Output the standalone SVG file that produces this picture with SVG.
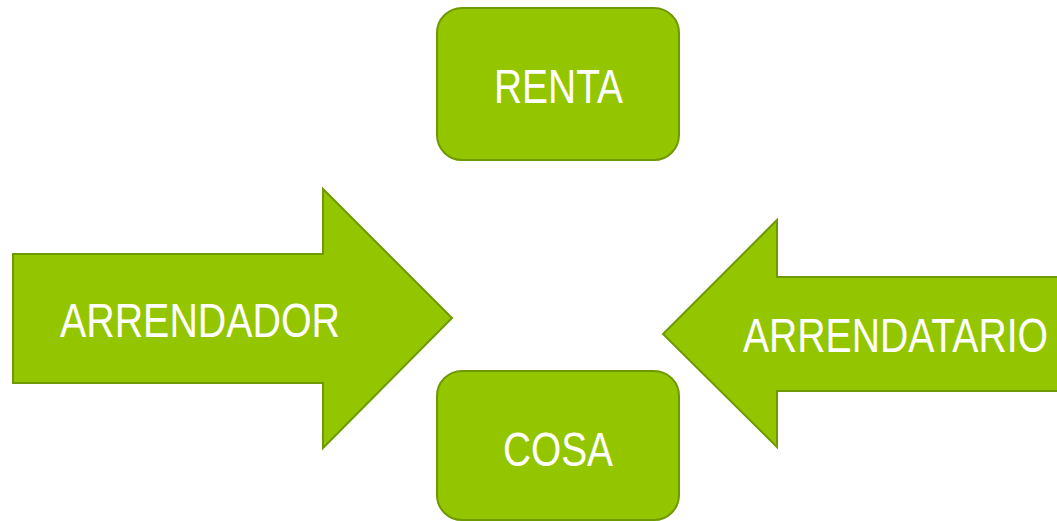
<svg xmlns="http://www.w3.org/2000/svg" width="1057" height="521" viewBox="0 0 1057 521">
<style>
.shape{fill:#94C600;stroke:#6E9A00;stroke-width:2}
.lbl{font-family:"Liberation Sans",Arial,sans-serif;font-size:48px;fill:#FFFFFF}
</style>
<rect width="1057" height="521" fill="#FFFFFF"/>
<g id="arrendador">
<polygon class="shape" points="13,254 323,254 323,189 452,318 323,448 323,383 13,383"/>
<text class="lbl" x="60" y="337" textLength="280" lengthAdjust="spacingAndGlyphs">ARRENDADOR</text>
</g>
<g id="arrendatario">
<polygon class="shape" points="1058,277 777,277 777,220 663,334 777,447 777,391 1058,391"/>
<text class="lbl" x="743" y="352" textLength="305" lengthAdjust="spacingAndGlyphs">ARRENDATARIO</text>
</g>
<g id="renta">
<rect class="shape" x="437" y="8" width="242" height="152" rx="25" ry="25"/>
<text class="lbl" x="494" y="103" textLength="129" lengthAdjust="spacingAndGlyphs">RENTA</text>
</g>
<g id="cosa">
<rect class="shape" x="437" y="371" width="242" height="149" rx="25" ry="25"/>
<text class="lbl" x="503" y="466" textLength="110" lengthAdjust="spacingAndGlyphs">COSA</text>
</g>
<g id="connectors"></g>
</svg>
